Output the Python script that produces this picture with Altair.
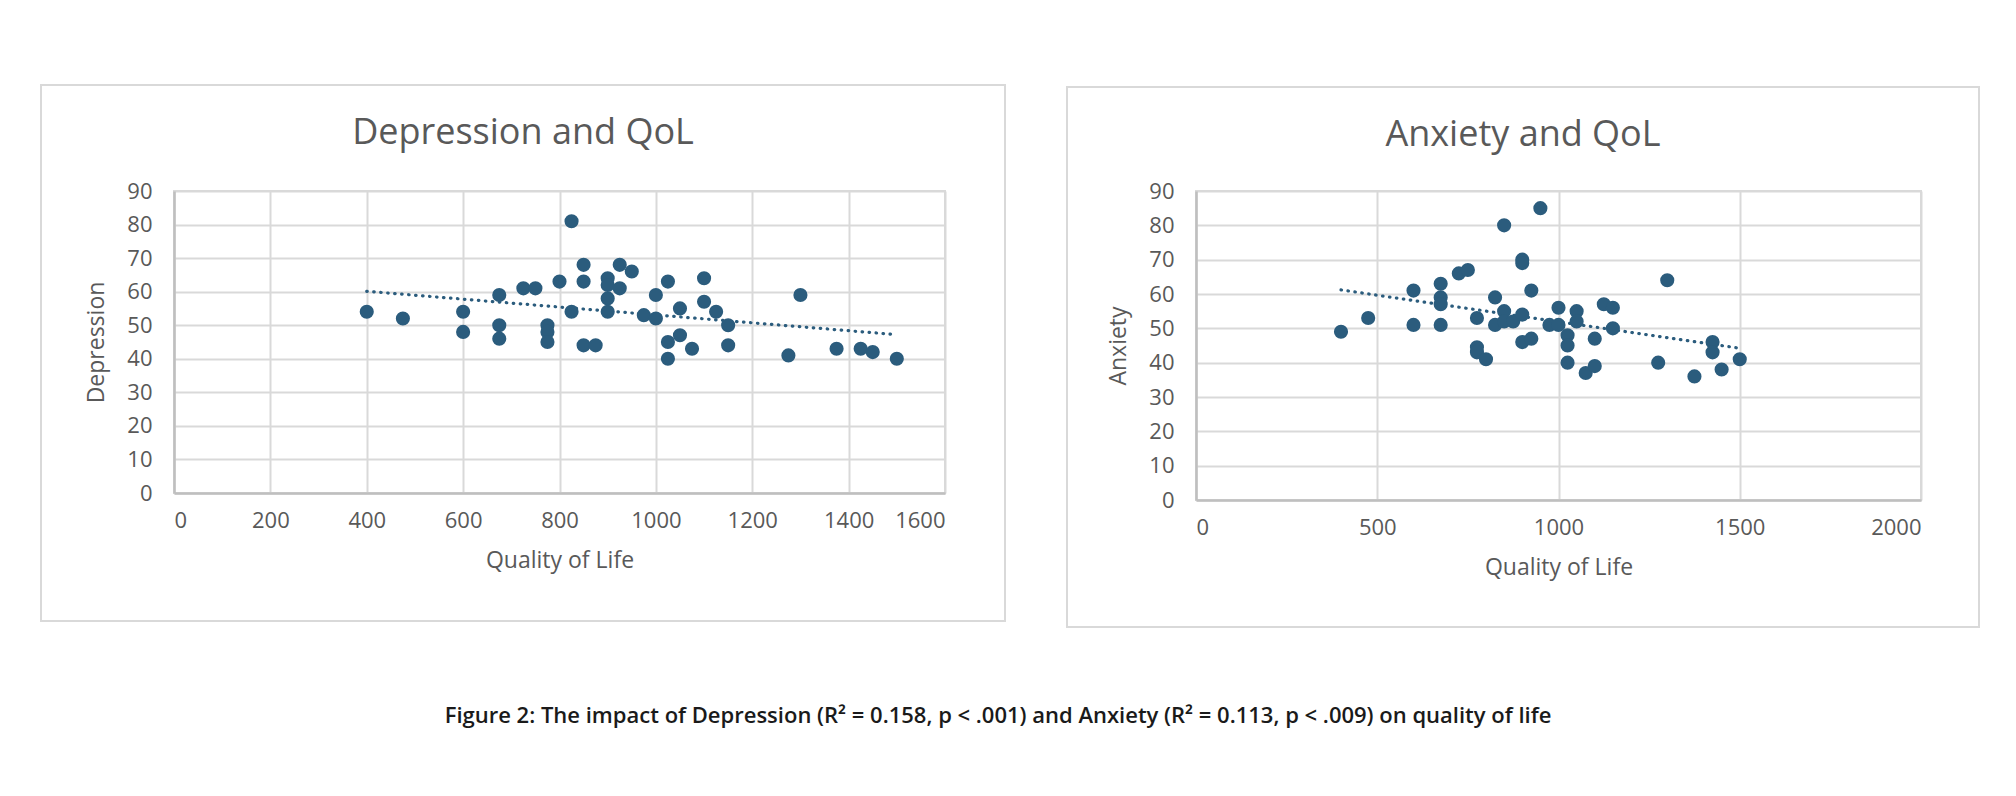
import altair as alt
import pandas as pd

# Depression panel data (Quality of Life vs Depression)
dep_qol = [400, 475, 600, 600, 675, 675, 675, 725, 750, 775, 775, 775, 800, 825, 825,
           850, 850, 850, 875, 900, 900, 900, 900, 925, 925, 950, 975, 1000, 1000, 1025,
           1025, 1025, 1050, 1050, 1075, 1100, 1100, 1125, 1150, 1150, 1275, 1300, 1375,
           1425, 1450, 1500]
dep_score = [54, 52, 54, 48, 59, 50, 46, 61, 61, 50, 48, 45, 63, 81, 54,
             68, 63, 44, 44, 64, 62, 58, 54, 68, 61, 66, 53, 52, 59, 63,
             45, 40, 55, 47, 43, 64, 57, 54, 50, 44, 41, 59, 43,
             43, 42, 40]

# Anxiety panel data (Quality of Life vs Anxiety)
anx_qol = [400, 475, 600, 600, 675, 675, 675, 675, 725, 750, 775, 775, 775, 800, 825,
           825, 850, 850, 850, 875, 900, 900, 900, 900, 925, 925, 950, 975, 1000, 1000,
           1025, 1025, 1025, 1050, 1050, 1075, 1100, 1100, 1125, 1150, 1150, 1275, 1300,
           1375, 1425, 1425, 1450, 1500]
anx_score = [49, 53, 61, 51, 63, 59, 57, 51, 66, 67, 53, 44.5, 43, 41, 59,
             51, 80, 55, 52, 52, 70, 69, 54, 46, 61, 47, 85, 51, 56, 51,
             48, 45, 40, 55, 52, 37, 39, 47, 57, 56, 50, 40, 64,
             36, 46, 43, 38, 41]

x_ticks_dep = [0, 200, 400, 600, 800, 1000, 1200, 1400, 1600]
x_ticks_anx = [0, 500, 1000, 1500, 2000]
y_ticks = [0, 10, 20, 30, 40, 50, 60, 70, 80, 90]

caption = ("Figure 2: The impact of Depression (R\u00b2 = 0.158, p < .001) and "
           "Anxiety (R\u00b2 = 0.113, p < .009) on quality of life")

TEXT = "#595959"
POINT = "#2B5C7D"
GRID = "#D9D9D9"
DOMAIN = "#BFBFBF"
FONT = "Open Sans"


def panel(qol, score, ylabel, title, xticks, w, h, frame, title_y):
    df = pd.DataFrame({"qol": qol, "score": score})
    base = alt.Chart(df)
    x = alt.X("qol:Q", title="Quality of Life",
              scale=alt.Scale(domain=[xticks[0], xticks[-1]], nice=False, zero=True),
              axis=alt.Axis(values=xticks, format="d", labelPadding=17, titlePadding=18))
    y = alt.Y("score:Q", title=ylabel,
              scale=alt.Scale(domain=[0, 90], nice=False),
              axis=alt.Axis(values=y_ticks, format="d", labelPadding=22, titlePadding=18))
    pts = base.mark_circle(size=200, color=POINT, opacity=1).encode(x=x, y=y)
    trend = base.transform_regression("qol", "score").mark_line(
        color=POINT, strokeWidth=3.2, strokeDash=[0.5, 6.5], strokeCap="round"
    ).encode(x=x, y=y)
    one = alt.Chart(pd.DataFrame({"label": [title]}))
    box = one.mark_rect(
        filled=False, stroke=GRID, strokeWidth=2, clip=False
    ).encode(x=alt.value(frame[0]), x2=alt.value(frame[1]),
             y=alt.value(frame[2]), y2=alt.value(frame[3]))
    head = one.mark_text(
        fontSize=36, color=TEXT, font=FONT, align="center", baseline="alphabetic",
        clip=False
    ).encode(text="label:N", x=alt.value((frame[0] + frame[1]) / 2),
             y=alt.value(title_y))
    return alt.layer(box, head, trend, pts).properties(width=w, height=h)


left = panel(dep_qol, dep_score, "Depression", "Depression and QoL",
             x_ticks_dep, 771, 302, (-133, 831, -106, 430), -47)
right = panel(anx_qol, anx_score, "Anxiety", "Anxiety and QoL",
              x_ticks_anx, 725, 309, (-129, 783, -104, 436), -45)

chart = alt.hconcat(left, right, spacing=58).properties(
    padding={"left": 31, "top": 75, "right": 5, "bottom": 5},
    background="white",
    title=alt.TitleParams(caption, orient="bottom", anchor="middle", fontSize=22,
                          font="Open Sans", fontWeight=600, color="#1a1a1a",
                          offset=77, dx=-12),
).configure_view(stroke=GRID, strokeWidth=2).configure_axis(
    labelFont=FONT, labelFontSize=22, labelColor=TEXT,
    titleFont=FONT, titleFontSize=23, titleFontWeight="normal", titleColor=TEXT,
    gridColor=GRID, gridWidth=2, domainColor=DOMAIN, domainWidth=2.5,
    ticks=False,
)

chart.save("out.html", embed_options={"renderer": "svg", "actions": False})
